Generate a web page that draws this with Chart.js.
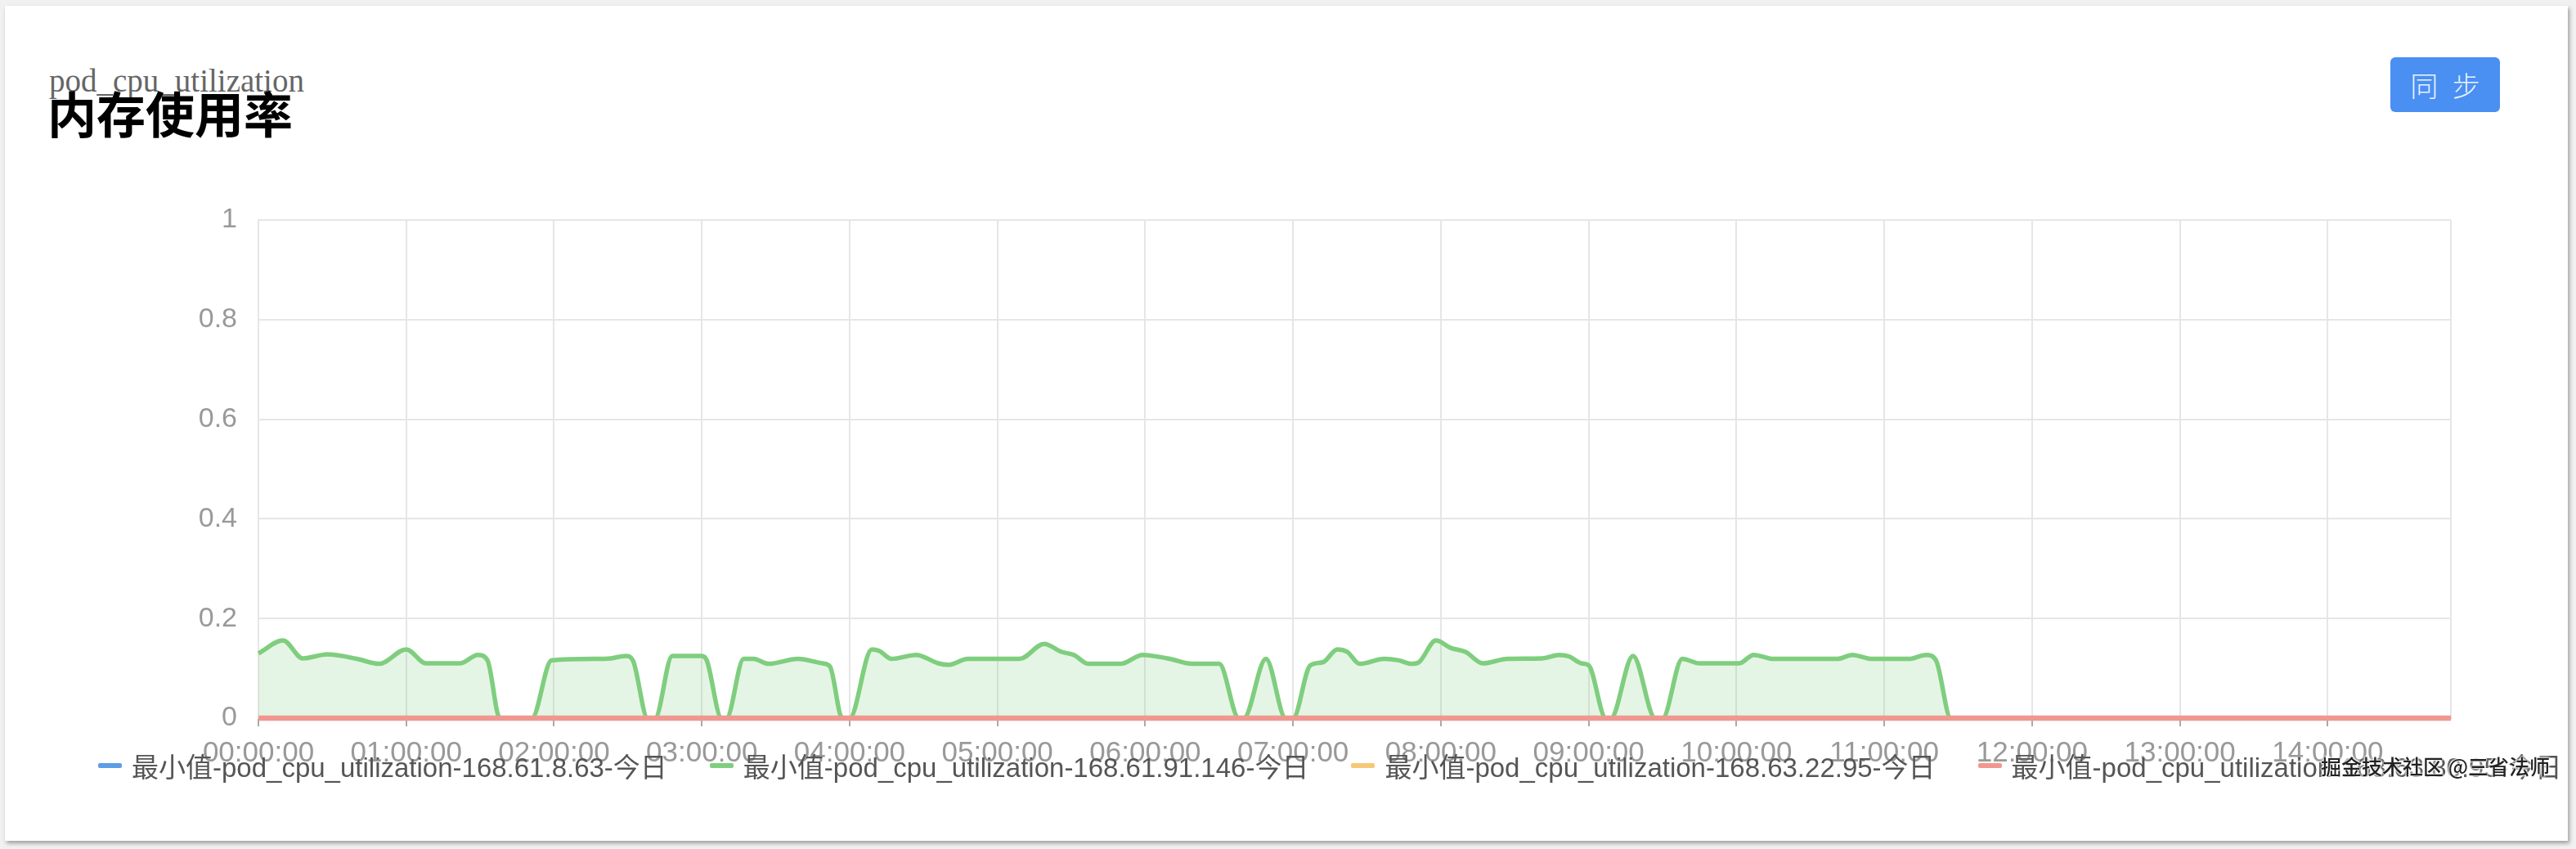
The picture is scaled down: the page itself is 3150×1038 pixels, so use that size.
<!DOCTYPE html>
<html>
<head>
<meta charset="utf-8">
<script src="https://cdn.jsdelivr.net/npm/chart.js@4.4.1/dist/chart.umd.min.js"></script>
<style>
  html, body { margin: 0; padding: 0; background: #f1f1f1; }
  body { width: 3150px; height: 1038px; overflow: hidden; position: relative;
         font-family: 'Liberation Sans', Arial, 'Noto Sans CJK SC', sans-serif; }
  .card { position: absolute; left: 6px; top: 7px; width: 3134px; height: 1021px;
          background: #fff; box-shadow: 2px 3px 5px rgba(0,0,0,0.35); overflow: hidden; }
  .metric { position: absolute; left: 54px; top: 72px; line-height: 39px;
            font-family: 'Liberation Serif', 'Times New Roman', serif; font-size: 39px; color: #666; }
  .title { position: absolute; left: 52px; top: 100px; line-height: 60px;
           font-family: 'Noto Sans CJK SC', sans-serif; font-weight: bold; font-size: 60px; color: #000; }
  .sync { position: absolute; left: 2917px; top: 63px; width: 134px; height: 67px;
          background: #4a8ff2; border-radius: 6px; color: rgba(255,255,255,0.9);
          font-family: 'Noto Sans CJK SC', sans-serif; font-weight: 300; font-size: 34px; line-height: 67px;
          text-align: center; letter-spacing: 5px; text-indent: 5px; }
  canvas { position: absolute; left: 0; top: 0; }
  .legend { position: absolute; left: 114px; top: 909px; height: 40px; display: flex; align-items: center;
            white-space: nowrap; font-size: 33px; color: #555; }
  .legend .item { display: flex; align-items: center; margin-right: 52px; }
  .legend .mark { width: 29px; height: 6px; border-radius: 2px; margin-right: 12px; }
  .watermark { position: absolute; left: 2832px; top: 911px; line-height: 36px; font-size: 25px;
               font-family: 'Noto Sans CJK SC', sans-serif; font-weight: 500; color: #222;
               text-shadow: 0 0 2px #fff, 0 0 2px #fff, 0 0 3px #fff, 0 0 4px #fff; white-space: nowrap; }
</style>
</head>
<body>
<div class="card">
  <div class="metric">pod_cpu_utilization</div>
  <div class="title">内存使用率</div>
  <div class="sync">同 步</div>
  <canvas id="chart" width="3134" height="1021"></canvas>
  <div class="legend" id="legend"></div>
  <div class="watermark">掘金技术社区 @三省法师</div>
</div>
<script>
// minutes since 00:00 for the .146 pod
const minutes = [0,10,18,28,40,49,60,68,82,89,93,98,111,119,137,143,149,152,158,161,
  168,180,182,188,190,197,201,207,219,229,232,237,240,249,252,257,267,276,280,288,
  309,319,326,331,337,350,359,363,370,379,390,398,400,409,417,420,427,432,438,442,
  447,457,463,468,471,478,484,490,497,507,521,528,532,537,540,547,549,558,567,570,
  578,585,601,607,615,641,647,655,670,677,681,687,890];
const node146 = [0.13,0.156,0.12,0.128,0.119,0.109,0.138,0.11,0.11,0.127,
  0.116,0,0,0.116,0.119,0.12,0.125,0.116,0,0,
  0.125,0.125,0.116,0,0,0.119,0.119,0.109,0.119,0.11,
  0.104,0,0,0.138,0.135,0.119,0.127,0.11,0.107,0.119,
  0.119,0.149,0.133,0.127,0.109,0.109,0.127,0.125,0.119,0.109,
  0.109,0,0,0.119,0,0,0.106,0.112,0.138,0.133,
  0.109,0.119,0.116,0.109,0.112,0.156,0.141,0.133,0.11,0.119,
  0.12,0.127,0.124,0.11,0.106,0,0,0.125,0,0,
  0.119,0.11,0.11,0.127,0.119,0.119,0.127,0.119,0.119,0.127,
  0.116,0,0];
// the other three pods stay at 0 all day
const flatMinutes = [0, 890];
const flatValues = [0, 0];

const hourLabels = ['00:00:00','01:00:00','02:00:00','03:00:00','04:00:00','05:00:00','06:00:00',
  '07:00:00','08:00:00','09:00:00','10:00:00','11:00:00','12:00:00','13:00:00','14:00:00'];
const yLabels = ['0', '0.2', '0.4', '0.6', '0.8', '1'];
const seriesNames = [
  '最小值-pod_cpu_utilization-168.61.8.63-今日',
  '最小值-pod_cpu_utilization-168.61.91.146-今日',
  '最小值-pod_cpu_utilization-168.63.22.95-今日',
  '最小值-pod_cpu_utilization-168.63.80.95-今日'
];
const seriesColors = ['#5d9de6', '#7fce7f', '#f5c878', '#f09890'];

function points(xs, ys) {
  return xs.map((x, i) => ({ x: x, y: ys[i] }));
}

const datasets = [
  { label: seriesNames[0], data: points(flatMinutes, flatValues), borderColor: seriesColors[0], borderWidth: 6, order: 3 },
  { label: seriesNames[1], data: points(minutes, node146), borderColor: seriesColors[1], borderWidth: 5.5,
    fill: 'origin', backgroundColor: 'rgba(127,206,127,0.2)', order: 4 },
  { label: seriesNames[2], data: points(flatMinutes, flatValues), borderColor: seriesColors[2], borderWidth: 6, order: 2 },
  { label: seriesNames[3], data: points(flatMinutes, flatValues), borderColor: seriesColors[3], borderWidth: 6.5, order: 1 }
];
datasets.forEach(d => { d.clip = 8; });

const gridColor = '#e6e6e6';

new Chart(document.getElementById('chart'), {
  type: 'line',
  data: { datasets: datasets },
  options: {
    responsive: false,
    animation: false,
    devicePixelRatio: 1,
    layout: { padding: { top: 262, right: 143, bottom: 90, left: 0 } },
    elements: { point: { radius: 0 }, line: { cubicInterpolationMode: 'monotone' } },
    plugins: { legend: { display: false }, tooltip: { enabled: false } },
    scales: {
      x: {
        type: 'linear', min: 0, max: 890,
        afterFit: (s) => { s.height = 60; },
        grid: { color: gridColor, lineWidth: 2, tickLength: 10, tickWidth: 2,
                tickColor: (c) => (c.tick && c.tick.value % 60 === 0) ? '#aaa' : 'rgba(0,0,0,0)' },
        border: { color: '#ccc', width: 2 },
        ticks: { stepSize: 60, autoSkip: false, maxRotation: 0, padding: 12, color: '#999',
                 font: { size: 35 },
                 callback: (v) => v % 60 === 0 ? hourLabels[v / 60] : '' }
      },
      y: {
        min: 0, max: 1,
        afterFit: (s) => { s.width = 310; },
        grid: { color: gridColor, lineWidth: 2, drawTicks: false },
        border: { color: gridColor, width: 2 },
        ticks: { stepSize: 0.2, padding: 26, color: '#999', font: { size: 34 },
                 callback: (v, i) => yLabels[i] }
      }
    }
  }
});

// html legend from the dataset names/colours
const legend = document.getElementById('legend');
seriesNames.forEach((name, i) => {
  const item = document.createElement('div');
  item.className = 'item';
  item.innerHTML = `<span class="mark" style="background:${seriesColors[i]}"></span><span>${name}</span>`;
  legend.appendChild(item);
});
</script>
</body>
</html>
